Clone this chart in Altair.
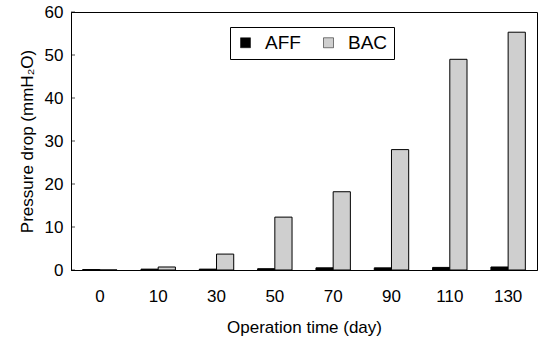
import altair as alt
import pandas as pd

days = ["0", "10", "30", "50", "70", "90", "110", "130"]
aff = [0.1, 0.2, 0.2, 0.3, 0.5, 0.5, 0.6, 0.7]
bac = [0.0, 0.7, 3.7, 12.3, 18.2, 28.0, 49.0, 55.3]
yticks = [0, 10, 20, 30, 40, 50, 60]

rows = []
for d, a, b in zip(days, aff, bac):
    rows.append({"day": d, "series": "AFF", "value": a})
    rows.append({"day": d, "series": "BAC", "value": b})
df = pd.DataFrame(rows)

FONT = "Liberation Sans"

yscale = alt.Scale(domain=[0, 60])

bars = alt.Chart(df).mark_bar(stroke="black", strokeWidth=1).encode(
    x=alt.X("day:N", sort=days,
            scale=alt.Scale(paddingInner=0.41, paddingOuter=0.2),
            axis=alt.Axis(title="Operation time (day)", labelAngle=0, tickSize=0,
                          labelPadding=18, titlePadding=15, domainColor="black",
                          labelColor="black", titleColor="black")),
    xOffset=alt.XOffset("series:N", sort=["AFF", "BAC"]),
    y=alt.Y("value:Q", scale=yscale,
            axis=alt.Axis(title="Pressure drop (mmH\u2082O)", values=yticks,
                          tickSize=0, labelPadding=8, titlePadding=8, grid=False,
                          domainColor="black", labelColor="black", titleColor="black")),
    color=alt.Color("series:N", sort=["AFF", "BAC"],
                    scale=alt.Scale(domain=["AFF", "BAC"], range=["#000000", "#cfcfcf"]),
                    legend=alt.Legend(title=None, orient="none", direction="horizontal",
                                      legendX=159, legendY=15, symbolType="square",
                                      symbolSize=100, symbolStrokeColor="black", symbolStrokeWidth=0.5,
                                      strokeColor="black", padding=6, columnPadding=18,
                                      labelOffset=10,
                                      labelFontSize=19, labelColor="black", labelFont=FONT)),
)

ticks = alt.Chart(pd.DataFrame({"v": yticks})).mark_tick(
    color="black", orient="horizontal", size=4, thickness=1
).encode(
    y=alt.Y("v:Q", scale=yscale),
    x=alt.value(2),
)

chart = alt.layer(bars, ticks).properties(
    width=466, height=258,
    padding={"left": 18, "top": 3, "right": 4, "bottom": 5},
).configure_view(
    stroke="black", strokeWidth=1
).configure_axis(
    labelFont=FONT, titleFont=FONT, labelFontSize=17, titleFontSize=17,
    titleFontWeight="normal"
)

chart.save("out.html", embed_options={"renderer": "svg", "actions": False})
